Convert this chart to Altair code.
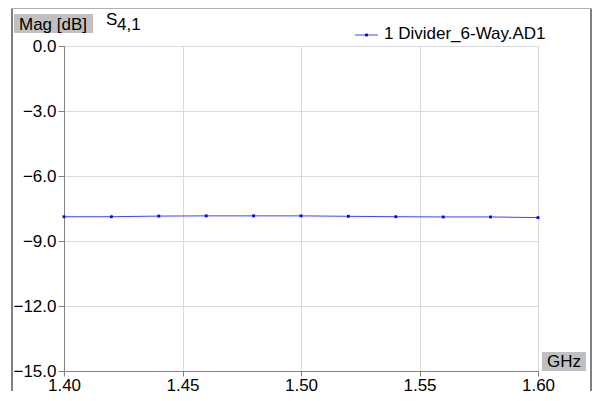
import altair as alt
import pandas as pd

freq = [1.40, 1.42, 1.44, 1.46, 1.48, 1.50, 1.52, 1.54, 1.56, 1.58, 1.60]
mag = [-7.88, -7.88, -7.85, -7.84, -7.84, -7.84, -7.86, -7.88, -7.89, -7.89, -7.92]
x_ticks = [1.40, 1.45, 1.50, 1.55, 1.60]
y_ticks = [0.0, -3.0, -6.0, -9.0, -12.0, -15.0]
series_name = "1 Divider_6-Way.AD1"
y_title = "Mag [dB]"
x_title = "GHz"

df = pd.DataFrame({"f": freq, "m": mag})
FONT = "Liberation Sans, Arial, sans-serif"
FS = 17
BLUE = "#0000ff"

x_enc = alt.X("f:Q", scale=alt.Scale(domain=[1.40, 1.60], nice=False, zero=False),
              axis=alt.Axis(values=x_ticks, format=".2f", title=None, labelFontSize=FS,
                            labelFont=FONT, labelColor="black", domainColor="#808080",
                            tickColor="#808080", tickSize=5, labelPadding=1,
                            gridColor="#dadada", labelFlush=False))
y_enc = alt.Y("m:Q", scale=alt.Scale(domain=[-15, 0], nice=False, zero=False),
              axis=alt.Axis(values=y_ticks, format=".1f", title=None, labelFontSize=FS,
                            labelFont=FONT, labelColor="black", domainColor="#808080",
                            tickColor="#808080", tickSize=6, labelPadding=2,
                            gridColor="#dadada"))

base = alt.Chart(df)
line = base.mark_line(color="#4040ff", strokeWidth=1).encode(x=x_enc, y=y_enc)
pts = base.mark_point(shape="square", filled=True, size=8, color=BLUE, opacity=1).encode(x="f:Q", y="m:Q")

one = alt.Chart(pd.DataFrame({"a": [0]}))

# frame
frame_left = one.mark_rule(color="#808080", strokeWidth=2).encode(
    x=alt.value(-52), y=alt.value(-38), y2=alt.value(345))
frame_right = one.mark_rule(color="#808080", strokeWidth=2).encode(
    x=alt.value(527), y=alt.value(-38), y2=alt.value(345))
frame_top = one.mark_rule(color="#b0b0b0", strokeWidth=1).encode(
    x=alt.value(-53), x2=alt.value(528), y=alt.value(-37.5))

# y title box
ybox = one.mark_rect(color="#c0c0c0").encode(
    x=alt.value(-50), x2=alt.value(29), y=alt.value(-32), y2=alt.value(-13))
ytext = one.mark_text(text=y_title, font=FONT, fontSize=FS, align="left",
                      baseline="alphabetic", color="black").encode(
    x=alt.value(-45), y=alt.value(-16))
s_text = one.mark_text(text="S", font=FONT, fontSize=FS, align="left",
                       baseline="alphabetic", color="black").encode(
    x=alt.value(42), y=alt.value(-21))
s_sub = one.mark_text(text="4,1", font=FONT, fontSize=FS, align="left",
                      baseline="alphabetic", color="black").encode(
    x=alt.value(53), y=alt.value(-16))

# x title box
xbox = one.mark_rect(color="#c0c0c0").encode(
    x=alt.value(478), x2=alt.value(522), y=alt.value(306), y2=alt.value(325))
xtext = one.mark_text(text=x_title, font=FONT, fontSize=FS, align="center",
                      baseline="alphabetic", color="black").encode(
    x=alt.value(500), y=alt.value(321))

# legend
leg_line = one.mark_rule(color="#4040ff", strokeWidth=1).encode(
    x=alt.value(291), x2=alt.value(314), y=alt.value(-11))
leg_pt = one.mark_point(shape="square", filled=True, size=8, color=BLUE, opacity=1).encode(
    x=alt.value(302.5), y=alt.value(-11))
leg_text = one.mark_text(text=series_name, font=FONT, fontSize=FS, align="left",
                         baseline="alphabetic", color="black").encode(
    x=alt.value(320), y=alt.value(-7))

chart = alt.layer(
    line, pts, frame_left, frame_right, frame_top, ybox, ytext, s_text, s_sub,
    xbox, xtext, leg_line, leg_pt, leg_text
).properties(
    width=474, height=325,
    autosize=alt.AutoSizeParams(type="none"),
    padding={"left": 56, "top": 38, "right": 54, "bottom": 24},
    background="white",
).configure_view(stroke=None)

chart.save("out.html", embed_options={"renderer": "svg", "actions": False})
